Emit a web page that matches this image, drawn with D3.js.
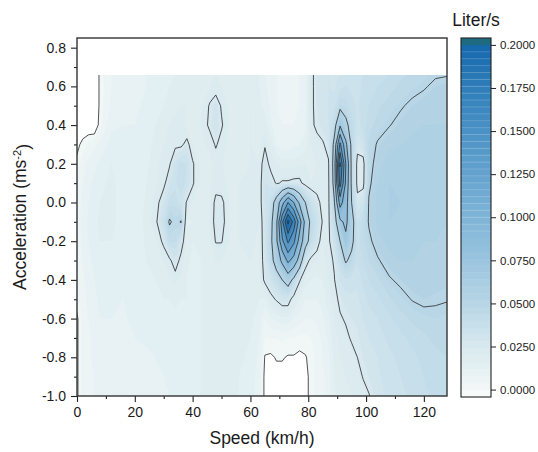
<!DOCTYPE html>
<html>
<head>
<meta charset="utf-8">
<script src="https://cdn.jsdelivr.net/npm/d3@7"></script>
<style>
  body { margin: 0; background: #fff; }
  svg { font-family: "Liberation Sans", Arial, sans-serif; }
</style>
</head>
<body>
<div id="chart"></div>
<script>
// Grid. Columns = speed (km/h), rows = acceleration (m/s^2), top row first
const speeds = [0, 2, 4, 6, 8, 12, 16, 20, 24, 27, 30, 32, 34, 36, 38, 40, 43, 46, 48, 50, 53, 56, 60, 63,
  65, 67, 69, 71, 73, 75, 77, 79, 81, 83, 85, 87, 89, 91, 93, 95, 97, 99, 101, 104, 108, 112, 116, 120, 124, 128];
const accels = [0.66, 0.6, 0.5, 0.4, 0.3, 0.2, 0.1, 0.0, -0.1, -0.2, -0.3, -0.4, -0.5, -0.6, -0.7, -0.8, -0.9, -1.0];

// fuel flow (Liter/s): one array per speed column, values follow accels
const flow = [
  [-0.006,-0.006,-0.005,-0.004,-0.002,0.002,0.004,0.005,0.006,0.005,0.005,0.004,0.003,-0.001,-0.001,-0.001,-0.001,-0.001],
  [-0.007,-0.007,-0.006,-0.005,0.002,0.006,0.008,0.009,0.010,0.009,0.008,0.007,0.006,0.005,0.005,0.005,0.005,0.005],
  [-0.007,-0.007,-0.006,-0.005,0.005,0.009,0.011,0.012,0.013,0.012,0.011,0.010,0.009,0.008,0.007,0.007,0.007,0.007],
  [-0.008,-0.008,-0.008,-0.006,0.007,0.011,0.013,0.014,0.015,0.014,0.013,0.012,0.011,0.010,0.009,0.009,0.008,0.008],
  [0.002,0.002,0.002,0.003,0.009,0.013,0.015,0.016,0.017,0.016,0.015,0.014,0.013,0.012,0.011,0.010,0.010,0.010],
  [0.008,0.008,0.009,0.011,0.014,0.016,0.017,0.017,0.017,0.016,0.015,0.014,0.013,0.012,0.011,0.011,0.010,0.010],
  [0.010,0.010,0.011,0.012,0.013,0.014,0.014,0.014,0.014,0.014,0.013,0.013,0.012,0.011,0.010,0.010,0.009,0.009],
  [0.011,0.011,0.011,0.012,0.012,0.012,0.012,0.012,0.012,0.012,0.012,0.012,0.013,0.014,0.012,0.010,0.009,0.009],
  [0.012,0.012,0.013,0.013,0.014,0.015,0.016,0.017,0.018,0.017,0.016,0.015,0.015,0.015,0.013,0.011,0.010,0.010],
  [0.014,0.014,0.015,0.016,0.017,0.018,0.019,0.021,0.022,0.019,0.017,0.016,0.015,0.014,0.013,0.012,0.011,0.011],
  [0.014,0.015,0.016,0.018,0.020,0.022,0.023,0.030,0.036,0.027,0.020,0.018,0.016,0.014,0.013,0.012,0.012,0.011],
  [0.015,0.016,0.018,0.020,0.022,0.024,0.030,0.038,0.052,0.040,0.023,0.019,0.016,0.014,0.013,0.012,0.012,0.012],
  [0.016,0.017,0.019,0.021,0.023,0.033,0.035,0.038,0.046,0.040,0.030,0.021,0.017,0.015,0.014,0.013,0.013,0.013],
  [0.017,0.018,0.020,0.022,0.023,0.038,0.040,0.033,0.051,0.030,0.022,0.019,0.016,0.015,0.014,0.014,0.014,0.014],
  [0.017,0.018,0.020,0.018,0.028,0.036,0.034,0.024,0.015,0.018,0.017,0.016,0.016,0.015,0.015,0.015,0.015,0.015],
  [0.017,0.018,0.019,0.019,0.020,0.026,0.026,0.020,0.016,0.016,0.015,0.015,0.015,0.015,0.015,0.015,0.015,0.015],
  [0.018,0.018,0.019,0.020,0.019,0.018,0.018,0.018,0.017,0.017,0.016,0.016,0.016,0.016,0.016,0.016,0.016,0.016],
  [0.019,0.020,0.026,0.027,0.021,0.019,0.019,0.020,0.020,0.019,0.018,0.017,0.017,0.017,0.017,0.017,0.017,0.017],
  [0.020,0.021,0.030,0.030,0.026,0.021,0.022,0.027,0.028,0.0255,0.020,0.018,0.017,0.017,0.017,0.017,0.017,0.017],
  [0.019,0.020,0.024,0.026,0.022,0.020,0.021,0.027,0.028,0.0255,0.020,0.018,0.017,0.017,0.017,0.017,0.017,0.017],
  [0.018,0.018,0.018,0.018,0.018,0.018,0.019,0.019,0.019,0.019,0.018,0.018,0.017,0.017,0.017,0.017,0.017,0.017],
  [0.018,0.018,0.019,0.019,0.019,0.019,0.020,0.020,0.020,0.020,0.019,0.018,0.018,0.017,0.017,0.017,0.016,0.016],
  [0.019,0.019,0.020,0.020,0.020,0.020,0.021,0.021,0.021,0.021,0.020,0.019,0.018,0.017,0.016,0.015,0.014,0.014],
  [0.016,0.016,0.017,0.018,0.019,0.020,0.021,0.021,0.020,0.019,0.019,0.018,0.016,0.014,0.012,0.011,0.010,0.010],
  [0.012,0.013,0.015,0.018,0.024,0.030,0.032,0.032,0.030,0.030,0.029,0.027,0.015,0.008,0.004,-0.0005,-0.002,-0.002],
  [0.010,0.010,0.011,0.013,0.018,0.022,0.030,0.038,0.043,0.045,0.042,0.032,0.022,0.012,0.004,-0.001,-0.003,-0.003],
  [0.008,0.008,0.008,0.009,0.012,0.020,0.024,0.060,0.070,0.070,0.060,0.040,0.026,0.013,0.004,0.0005,-0.002,-0.003],
  [0.007,0.007,0.007,0.008,0.010,0.018,0.026,0.090,0.144,0.120,0.080,0.050,0.030,0.015,0.005,0.0005,-0.002,-0.003],
  [0.007,0.007,0.007,0.008,0.010,0.018,0.026,0.125,0.206,0.154,0.105,0.060,0.030,0.015,0.004,-0.0005,-0.002,-0.003],
  [0.007,0.007,0.007,0.008,0.011,0.018,0.027,0.100,0.165,0.130,0.090,0.045,0.020,0.012,0.004,-0.0005,-0.002,-0.003],
  [0.008,0.008,0.008,0.009,0.012,0.019,0.027,0.070,0.111,0.090,0.065,0.026,0.016,0.010,0.003,-0.0015,-0.002,-0.003],
  [0.010,0.010,0.010,0.011,0.014,0.020,0.022,0.050,0.067,0.060,0.030,0.018,0.012,0.008,0.003,-0.0005,-0.002,-0.002],
  [0.023,0.023,0.023,0.023,0.020,0.019,0.020,0.035,0.044,0.040,0.022,0.016,0.012,0.008,0.004,0.002,0.002,0.002],
  [0.028,0.028,0.028,0.027,0.022,0.020,0.021,0.028,0.035,0.030,0.020,0.015,0.012,0.009,0.006,0.005,0.005,0.005],
  [0.030,0.030,0.030,0.029,0.024,0.021,0.020,0.022,0.024,0.020,0.018,0.016,0.014,0.011,0.009,0.008,0.007,0.007],
  [0.032,0.032,0.032,0.031,0.028,0.024,0.023,0.023,0.023,0.023,0.022,0.020,0.018,0.015,0.013,0.011,0.010,0.010],
  [0.030,0.031,0.034,0.042,0.055,0.060,0.058,0.048,0.040,0.033,0.026,0.0245,0.022,0.020,0.018,0.017,0.016,0.015],
  [0.032,0.034,0.045,0.072,0.130,0.178,0.160,0.110,0.070,0.050,0.040,0.032,0.027,0.024,0.021,0.020,0.019,0.018],
  [0.034,0.036,0.042,0.055,0.080,0.100,0.095,0.085,0.080,0.070,0.052,0.035,0.030,0.026,0.023,0.021,0.020,0.019],
  [0.034,0.035,0.038,0.042,0.045,0.045,0.046,0.050,0.058,0.055,0.045,0.034,0.031,0.028,0.026,0.022,0.021,0.020],
  [0.033,0.034,0.035,0.034,0.028,0.022,0.022,0.028,0.036,0.038,0.036,0.033,0.031,0.029,0.027,0.025,0.022,0.021],
  [0.036,0.037,0.038,0.038,0.032,0.021,0.022,0.032,0.042,0.042,0.040,0.037,0.034,0.032,0.030,0.028,0.0255,0.022],
  [0.037,0.038,0.040,0.042,0.045,0.046,0.048,0.051,0.051,0.048,0.044,0.040,0.037,0.034,0.032,0.030,0.028,0.0245],
  [0.038,0.040,0.043,0.046,0.051,0.054,0.056,0.057,0.057,0.054,0.049,0.043,0.039,0.036,0.034,0.032,0.031,0.030],
  [0.040,0.042,0.046,0.0495,0.055,0.058,0.060,0.060,0.060,0.058,0.054,0.049,0.043,0.039,0.037,0.035,0.034,0.033],
  [0.043,0.045,0.049,0.053,0.056,0.058,0.059,0.060,0.059,0.058,0.056,0.052,0.047,0.042,0.039,0.037,0.036,0.035],
  [0.045,0.047,0.052,0.055,0.057,0.058,0.058,0.058,0.058,0.057,0.056,0.054,0.0505,0.045,0.041,0.039,0.038,0.037],
  [0.047,0.049,0.054,0.056,0.057,0.057,0.057,0.057,0.057,0.056,0.055,0.054,0.052,0.047,0.043,0.041,0.040,0.039],
  [0.049,0.052,0.055,0.056,0.057,0.057,0.057,0.057,0.057,0.056,0.055,0.054,0.051,0.048,0.045,0.043,0.042,0.041],
  [0.0495,0.053,0.055,0.056,0.056,0.056,0.056,0.056,0.056,0.055,0.054,0.053,0.0505,0.047,0.045,0.044,0.043,0.042]
];

// contour lines and colour bar
const lineLevels = [0, 0.025, 0.05, 0.075, 0.1, 0.125, 0.15, 0.175, 0.2];
const barTicks = [0, 0.025, 0.05, 0.075, 0.1, 0.125, 0.15, 0.175, 0.2];
const colorStops = [0, 0.025, 0.05, 0.075, 0.1, 0.125, 0.15, 0.175, 0.2];
const colorRange = ["#f2f8f7", "#d8e9ef", "#b8d6e6", "#9bc5df", "#7fb4d7", "#64a3cf", "#4a91c5", "#2f7eba", "#1568ad"];
const topColor = "#1e6a80";

const xTicks = [0, 20, 40, 60, 80, 100, 120];
const xMinor = [10, 30, 50, 70, 90, 110];
const yTicks = [-1.0, -0.8, -0.6, -0.4, -0.2, 0.0, 0.2, 0.4, 0.6, 0.8];
const yMinor = [-0.9, -0.7, -0.5, -0.3, -0.1, 0.1, 0.3, 0.5, 0.7];

var width = 538, height = 452;
var svg = d3.select('#chart').append('svg')
  .attr('width', width)
  .attr('height', height);

var x = d3.scaleLinear().domain([0, 128]).range([77, 447]);
var y = d3.scaleLinear().domain([-1, 0.85]).range([396, 38]);
var color = d3.scaleLinear().domain(colorStops).range(colorRange).clamp(true);

// flatten the grid for d3.contours (row-major)
var nx = speeds.length, ny = accels.length;
var values = [];
for (var j = 0; j < ny; j++) {
  for (var i = 0; i < nx; i++) values.push(flow[i][j]);
}

// grid index -> data value (uneven spacing). Not clamped: the outer border of
// each contour polygon lands just outside the data area and is clipped away.
var colIdx = d3.scaleLinear().domain(d3.range(nx)).range(speeds);
var rowIdx = d3.scaleLinear().domain(d3.range(ny)).range(accels);
var path = d3.geoPath(d3.geoTransform({
  point: function(px, py) {
    this.stream.point(x(colIdx(px - 0.5)), y(rowIdx(py - 0.5)));
  }
}));

// clip on whole pixels so the stacked bands give one clean edge
var cx0 = Math.round(x(0)), cx1 = Math.round(x(128));
var cy0 = Math.ceil(y(0.66)), cy1 = Math.round(y(-1));
svg.append('defs').append('clipPath').attr('id', 'dataClip').append('rect')
  .attr('x', cx0).attr('y', cy0)
  .attr('width', cx1 - cx0).attr('height', cy1 - cy0);

// filled bands
var step = 0.004;
var fillLevels = d3.range(0, 51).map(function(k) { return +(k * step).toFixed(3); });
var bands = d3.contours().size([nx, ny]).thresholds(fillLevels)(values);

svg.append('g').attr('clip-path', 'url(#dataClip)')
  .selectAll('path').data(bands).enter().append('path')
  .attr('d', path)
  .attr('fill', function(d) { return d.value >= 0.2 ? topColor : color(d.value + step / 2); })
  .attr('stroke', function(d) { return d.value >= 0.2 ? topColor : color(d.value + step / 2); })
  .attr('stroke-width', 0.3);

// contour lines
var lines = d3.contours().size([nx, ny]).thresholds(lineLevels)(values);
svg.append('g').attr('clip-path', 'url(#dataClip)')
  .selectAll('path').data(lines).enter().append('path')
  .attr('d', path)
  .attr('fill', 'none')
  .attr('stroke', '#333')
  .attr('stroke-width', 0.85);

// axes
svg.append('g').attr('transform', 'translate(0,' + y(-1) + ')')
  .call(d3.axisBottom(x).tickValues(xTicks).tickSize(6).tickPadding(5).tickSizeOuter(0));
svg.append('g').attr('transform', 'translate(0,' + y(-1) + ')')
  .call(d3.axisBottom(x).tickValues(xMinor).tickSize(3).tickFormat('').tickSizeOuter(0));
svg.append('g').attr('transform', 'translate(' + x(0) + ',0)')
  .call(d3.axisLeft(y).tickValues(yTicks).tickSize(6).tickPadding(5).tickSizeOuter(0)
    .tickFormat(function(d) { return d.toFixed(1); }));
svg.append('g').attr('transform', 'translate(' + x(0) + ',0)')
  .call(d3.axisLeft(y).tickValues(yMinor).tickSize(3).tickFormat('').tickSizeOuter(0));

svg.selectAll('.domain').remove();
svg.selectAll('.tick line').attr('stroke', '#222').attr('stroke-width', 1.1);
svg.selectAll('.tick text').attr('fill', '#1a1a1a').style('font-size', '14px');

// plot frame
svg.append('rect')
  .attr('x', x(0)).attr('y', y(0.85))
  .attr('width', x(128) - x(0)).attr('height', y(-1) - y(0.85))
  .attr('fill', 'none').attr('stroke', '#333').attr('stroke-width', 1.4);

// axis titles
svg.append('text')
  .attr('x', (x(0) + x(128)) / 2).attr('y', 444)
  .attr('text-anchor', 'middle').attr('fill', '#1a1a1a')
  .style('font-size', '17.5px')
  .text('Speed (km/h)');

var yt = svg.append('text')
  .attr('transform', 'translate(26,' + ((y(0.85) + y(-1)) / 2) + ') rotate(-90)')
  .attr('text-anchor', 'middle').attr('fill', '#1a1a1a')
  .style('font-size', '17.5px');
yt.append('tspan').text('Acceleration (ms');
yt.append('tspan').attr('dy', '-0.5em').style('font-size', '11px').text('-2');
yt.append('tspan').attr('dy', '0.5em').text(')');

// colour bar
var cy = d3.scaleLinear().domain([-0.0043, 0.204]).range([397, 38]);
var barX = 461, barW = 30;
var barLevels = d3.range(-1, 51).map(function(k) { return +(k * step).toFixed(3); });
var bar = svg.append('g');
bar.selectAll('rect').data(barLevels).enter().append('rect')
  .attr('x', barX).attr('width', barW)
  .attr('y', function(d) { return cy(Math.min(d + step, 0.204)); })
  .attr('height', function(d) { return cy(d) - cy(Math.min(d + step, 0.204)) + 0.4; })
  .attr('fill', function(d) { return d >= 0.2 ? topColor : (d < 0 ? '#f7fbfa' : color(d + step / 2)); });
bar.selectAll('line.sep').data(barLevels.filter(function(d) { return d > 0.09 && d < 0.2; }))
  .enter().append('line').attr('class', 'sep')
  .attr('x1', barX).attr('x2', barX + barW)
  .attr('y1', function(d) { return cy(d); }).attr('y2', function(d) { return cy(d); })
  .attr('stroke', '#ffffff').attr('stroke-opacity', 0.3).attr('stroke-width', 0.6);
bar.append('rect')
  .attr('x', barX).attr('y', cy(0.204))
  .attr('width', barW).attr('height', cy(-0.0043) - cy(0.204))
  .attr('fill', 'none').attr('stroke', '#222').attr('stroke-width', 1.1);

svg.append('g').attr('transform', 'translate(' + (barX + barW) + ',0)')
  .call(d3.axisRight(cy).tickValues(barTicks).tickSize(5).tickPadding(4).tickSizeOuter(0)
    .tickFormat(function(d) { return d.toFixed(4); }))
  .call(function(g) { g.select('.domain').remove(); })
  .call(function(g) {
    g.selectAll('.tick line').attr('stroke', '#222');
    g.selectAll('.tick text').attr('fill', '#1a1a1a').style('font-size', '11.5px');
  });

svg.append('text')
  .attr('x', 476).attr('y', 26)
  .attr('text-anchor', 'middle').attr('fill', '#1a1a1a')
  .style('font-size', '17.5px')
  .text('Liter/s');
</script>
</body>
</html>
